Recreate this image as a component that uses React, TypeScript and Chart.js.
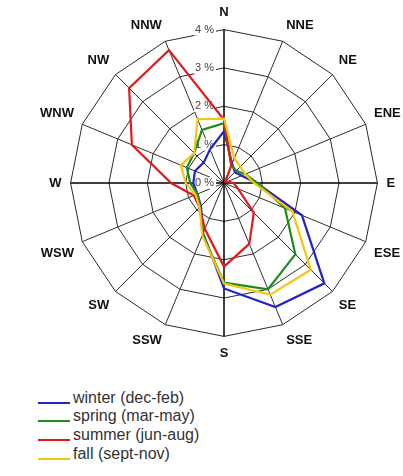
import { useEffect, useRef } from 'react';
import { Chart, registerables } from 'chart.js';

Chart.register(...registerables);

// Wind directions, clockwise from north
const directions = ['N', 'NNE', 'NE', 'ENE', 'E', 'ESE', 'SE', 'SSE', 'S', 'SSW', 'SW', 'WSW', 'W', 'WNW', 'NW', 'NNW'];

// Frequency of wind from each direction, in percent
const winter = [1.35, 0.55, 0.4, 0.5, 0.85, 2.2, 3.7, 3.5, 2.75, 1.42, 0.85, 0.75, 0.8, 0.82, 0.75, 0.95];
const spring = [1.56, 0.5, 0.45, 0.6, 0.88, 1.72, 2.63, 3.0, 2.6, 1.45, 0.88, 0.75, 0.88, 1.05, 1.1, 1.5];
const summer = [1.65, 0.5, 0.05, 0.1, 0.25, 0.4, 1.1, 1.72, 2.18, 1.3, 0.9, 0.85, 1.38, 2.6, 3.5, 3.75];
const fall = [1.68, 0.7, 0.6, 0.6, 0.78, 1.93, 3.2, 3.15, 2.62, 1.48, 0.9, 0.8, 1.0, 1.22, 1.1, 1.8];

const seriesLabels = ['winter (dec-feb)', 'spring (mar-may)', 'summer (jun-aug)', 'fall (sept-nov)'];
const seriesColors = ['#2323c8', '#1d8c1d', '#e01b1b', '#f5c60f'];
const seriesData = [winter, spring, summer, fall];
// fall is drawn on top, winter underneath
const seriesOrder = [3, 2, 1, 0];

const tickValues = [0, 1, 2, 3, 4];
const tickLabels = ['0 %', '1 %', '2 %', '3 %', '4 %'];

const FONT = '"Liberation Sans", Arial, Helvetica, sans-serif';

// Percent labels placed just left of the north axis, on a white backdrop
const radialTickLabels = {
  id: 'radialTickLabels',
  beforeDatasetsDraw(chart: any) {
    const scale = chart.scales.r;
    const ctx = chart.ctx;
    ctx.save();
    ctx.font = `11px ${FONT}`;
    ctx.textAlign = 'right';
    ctx.textBaseline = 'middle';
    tickValues.forEach((v, i) => {
      const y = scale.yCenter - scale.getDistanceFromCenterForValue(v);
      const x = scale.xCenter - 10;
      const w = ctx.measureText(tickLabels[i]).width;
      ctx.fillStyle = '#ffffff';
      ctx.fillRect(x - w - 1, y - 6, w + 3, 12);
      ctx.fillStyle = '#444444';
      ctx.fillText(tickLabels[i], x, y);
    });
    ctx.restore();
  },
};

export default function App() {
  const canvasRef = useRef<HTMLCanvasElement | null>(null);

  useEffect(() => {
    if (!canvasRef.current) return;
    const chart = new Chart(canvasRef.current, {
      type: 'radar',
      data: {
        labels: directions,
        datasets: seriesData.map((d, i) => ({
          label: seriesLabels[i],
          data: d,
          borderColor: seriesColors[i],
          backgroundColor: seriesColors[i],
          borderWidth: 2.2,
          pointRadius: 0,
          pointHoverRadius: 0,
          fill: false,
          tension: 0,
          order: seriesOrder[i],
        })),
      },
      options: {
        responsive: false,
        animation: false,
        devicePixelRatio: 1,
        layout: { padding: { left: 16, right: 8, top: 5, bottom: 0 } },
        plugins: {
          legend: { display: false },
          tooltip: { enabled: false },
        },
        scales: {
          r: {
            min: 0,
            max: 4,
            startAngle: 0,
            ticks: { display: false, stepSize: 1 },
            grid: { color: '#2a2a2a', lineWidth: 1, circular: false },
            angleLines: {
              color: (c: any) => (c.index % 4 === 0 ? '#000000' : '#2e2e2e'),
              lineWidth: (c: any) => (c.index % 4 === 0 ? 1.5 : 1),
            },
            pointLabels: {
              color: '#111111',
              padding: 9,
              font: { family: FONT, size: 13, weight: 'bold' },
            },
          },
        },
      },
      plugins: [radialTickLabels],
    });
    return () => chart.destroy();
  }, []);

  return (
    <div
      style={{
        position: 'absolute',
        left: 0,
        top: 0,
        width: 403,
        height: 476,
        overflow: 'hidden',
        background: '#ffffff',
      }}
    >
      <canvas ref={canvasRef} width={440} height={362} style={{ position: 'absolute', left: 0, top: 0 }} />
      {seriesLabels.map((label, i) => (
        <div key={label}>
          <div
            style={{
              position: 'absolute',
              left: 38,
              top: 401.7 + i * 18.67,
              width: 32,
              height: 2,
              background: seriesColors[i],
            }}
          />
          <div
            style={{
              position: 'absolute',
              left: 73,
              top: 388.7 + i * 18.67,
              font: `16px ${FONT}`,
              lineHeight: '18px',
              color: '#333333',
              whiteSpace: 'nowrap',
            }}
          >
            {label}
          </div>
        </div>
      ))}
    </div>
  );
}
